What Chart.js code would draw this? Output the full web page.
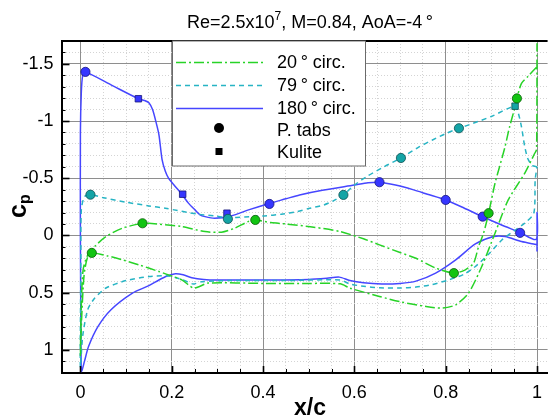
<!DOCTYPE html>
<html>
<head>
<meta charset="utf-8">
<script src="https://cdn.jsdelivr.net/npm/chart.js@4.4.1/dist/chart.umd.min.js"></script>
<style>
  html, body { margin: 0; padding: 0; background: #fff; }
</style>
</head>
<body>
<canvas id="cp" width="553" height="416"></canvas>
<script>
// pressure distributions, x/c vs cp, one loop per circumferential station
const seriesNames = ['20\u2009° circ.', '79\u2009° circ.', '180\u2009° circ.'];

const circ20 = [
  [1.0, -1.475], [0.98, -1.39], [0.966, -1.33], [0.956, -1.2], [0.952, -1.125], [0.94, -0.95],
  [0.93, -0.776], [0.918, -0.6], [0.908, -0.456], [0.894, -0.194], [0.883, -0.02], [0.872, 0.098],
  [0.861, 0.243], [0.843, 0.301], [0.818, 0.33], [0.778, 0.286], [0.735, 0.2], [0.7, 0.15],
  [0.655, 0.083], [0.62, 0.03], [0.569, -0.033], [0.511, -0.072], [0.45, -0.1], [0.417, -0.112],
  [0.383, -0.135], [0.367, -0.12], [0.338, -0.063], [0.309, -0.028], [0.273, -0.033], [0.222, -0.077],
  [0.15, -0.106], [0.136, -0.106], [0.092, -0.063], [0.056, 0.01], [0.031, 0.098], [0.015, 0.18],
  [0.006, 0.3], [0.002, 0.6], [0.0, 1.05], [0.003, 0.7], [0.008, 0.35], [0.015, 0.2],
  [0.025, 0.153], [0.06, 0.18], [0.092, 0.214], [0.13, 0.26], [0.172, 0.316], [0.193, 0.345],
  [0.222, 0.389], [0.247, 0.461], [0.258, 0.452], [0.28, 0.417], [0.4, 0.42], [0.5, 0.42],
  [0.569, 0.424], [0.59, 0.461], [0.655, 0.534], [0.7, 0.58], [0.757, 0.622], [0.793, 0.636],
  [0.822, 0.607], [0.85, 0.505], [0.879, 0.272], [0.908, -0.019], [0.937, -0.31], [0.973, -0.543],
  [0.995, -0.718], [0.999, -0.75], [1.0, -1.68]
];

const circ79 = [
  [1.0, -0.6], [0.99, -0.61], [0.98, -0.67], [0.973, -0.78], [0.966, -0.95], [0.959, -1.07],
  [0.952, -1.131], [0.9, -1.04], [0.86, -0.98], [0.829, -0.936], [0.8, -0.89], [0.771, -0.834],
  [0.74, -0.77], [0.702, -0.677], [0.665, -0.6], [0.627, -0.514], [0.6, -0.44], [0.576, -0.354],
  [0.553, -0.3], [0.533, -0.266], [0.5, -0.235], [0.475, -0.208], [0.44, -0.185], [0.403, -0.17],
  [0.36, -0.16], [0.323, -0.155], [0.294, -0.17], [0.258, -0.185], [0.186, -0.237], [0.15, -0.258],
  [0.1, -0.29], [0.05, -0.33], [0.022, -0.356], [0.009, -0.34], [0.002, -0.223], [0.001, 0.2],
  [0.0, 0.8], [0.0, 1.15], [0.005, 0.88], [0.016, 0.65], [0.031, 0.55], [0.056, 0.46],
  [0.1, 0.395], [0.15, 0.36], [0.193, 0.355], [0.222, 0.385], [0.247, 0.425], [0.265, 0.405],
  [0.33, 0.395], [0.45, 0.395], [0.569, 0.39], [0.59, 0.425], [0.62, 0.445], [0.655, 0.458],
  [0.7, 0.46], [0.735, 0.452], [0.77, 0.43], [0.807, 0.389], [0.84, 0.34], [0.865, 0.272],
  [0.895, 0.16], [0.923, 0.04], [0.95, -0.04], [0.973, -0.107], [0.993, -0.194], [0.996, -0.485],
  [1.0, -0.6]
];

const circ180 = [
  [1.0, 0.14], [1.0, -0.2], [0.998, 0.035], [0.963, -0.025], [0.92, -0.095], [0.88, -0.165],
  [0.84, -0.24], [0.8, -0.31], [0.76, -0.36], [0.728, -0.4], [0.69, -0.44], [0.655, -0.465],
  [0.63, -0.46], [0.6, -0.44], [0.53, -0.395], [0.48, -0.354], [0.45, -0.32], [0.41, -0.275],
  [0.37, -0.225], [0.33, -0.17], [0.294, -0.15], [0.273, -0.164], [0.262, -0.18], [0.251, -0.223],
  [0.237, -0.28], [0.222, -0.36], [0.205, -0.44], [0.193, -0.5], [0.186, -0.56], [0.179, -0.66],
  [0.172, -0.88], [0.165, -1.0], [0.158, -1.1], [0.15, -1.16], [0.14, -1.18], [0.127, -1.195],
  [0.07, -1.31], [0.011, -1.43], [0.005, -1.4], [0.002, -1.25], [0.0, -0.9], [0.0, 0.0],
  [0.001, 0.8], [0.002, 1.19], [0.004, 1.175], [0.009, 1.1], [0.018, 0.97], [0.038, 0.8],
  [0.067, 0.65], [0.114, 0.505], [0.15, 0.44], [0.172, 0.39], [0.19, 0.355], [0.208, 0.336],
  [0.225, 0.345], [0.244, 0.37], [0.27, 0.385], [0.3, 0.39], [0.4, 0.39], [0.5, 0.385],
  [0.54, 0.375], [0.567, 0.365], [0.59, 0.395], [0.62, 0.415], [0.66, 0.425], [0.7, 0.42],
  [0.735, 0.4], [0.778, 0.33], [0.822, 0.214], [0.865, 0.075], [0.905, 0.01], [0.93, 0.01],
  [0.966, 0.054], [0.995, 0.077], [1.0, 0.08]
];

// pressure tab readings
const tabs20 = [[0.025, 0.153], [0.136, -0.106], [0.383, -0.135], [0.818, 0.33], [0.894, -0.194], [0.956, -1.198]];
const tabs79 = [[0.022, -0.356], [0.323, -0.144], [0.576, -0.354], [0.702, -0.677], [0.829, -0.937]];
const tabs180 = [[0.011, -1.43], [0.414, -0.275], [0.655, -0.465], [0.8, -0.31], [0.881, -0.164], [0.963, -0.022]];

// kulite readings
const kulite79 = [[0.952, -1.13]];
const kulite180 = [[0.127, -1.195], [0.224, -0.36], [0.321, -0.194]];

const xTickLabels = [0, 0.2, 0.4, 0.6, 0.8, 1];
const yTickLabels = [-1.5, -1, -0.5, 0, 0.5, 1];

const colors = {
  g: { line: '#27d327', fill: '#12c412', edge: '#0b5c0b', dash: [10, 3, 2, 3] },
  t: { line: '#27b4c4', fill: '#14a4a6', edge: '#0c5052', dash: [5, 4] },
  b: { line: '#4646ff', fill: '#3636ff', edge: '#16167c', dash: [] }
};

const FONT = '"Liberation Sans", Arial, sans-serif';
const pts = arr => arr.map(p => ({ x: p[0], y: p[1] }));

function curve(label, arr, c) {
  return {
    label: label, data: pts(arr), showLine: true, pointRadius: 0,
    borderColor: c.line, borderWidth: 1.5, borderDash: c.dash, tension: 0.25, order: 2
  };
}
function marks(label, arr, c, style) {
  return {
    label: label, data: pts(arr), showLine: false, pointStyle: style,
    pointRadius: 4.6, backgroundColor: c.fill, borderColor: c.edge, pointBorderWidth: 0.8, order: 1
  };
}

const isMajor = (v, step) => Math.abs(v / step - Math.round(v / step)) < 1e-6;

// minor ticks between the labelled ones
const xMinor = [];
for (let i = 0; i <= 20; i++) xMinor.push(Math.round(i * 5) / 100);
const yMinor = [];
for (let i = -16; i <= 11; i++) yMinor.push(i / 10);

function dottedGrid(step) {
  return {
    color: c => (c.tick && isMajor(c.tick.value, step)) ? '#8e8e8e' : '#d4d4d4',
    lineWidth: 1,
    drawTicks: false
  };
}

const frame = {
  id: 'frame',
  afterDatasetsDraw(chart) {
    const { ctx, chartArea: a, scales: { x, y } } = chart;
    ctx.save();
    ctx.strokeStyle = '#000';
    ctx.lineWidth = 2;
    ctx.beginPath();
    ctx.moveTo(a.left, a.top);
    ctx.lineTo(a.right, a.top);
    ctx.stroke();

    // inward tick marks
    x.ticks.forEach(t => {
      const px = Math.round(x.getPixelForValue(t.value)) + 0.5;
      const big = isMajor(t.value, 0.2);
      ctx.lineWidth = big ? 1.6 : 1;
      ctx.beginPath();
      ctx.moveTo(px, a.bottom);
      ctx.lineTo(px, a.bottom - (big ? 7 : 4));
      ctx.stroke();
    });
    y.ticks.forEach(t => {
      const py = Math.round(y.getPixelForValue(t.value)) + 0.5;
      const big = isMajor(t.value, 0.5);
      ctx.lineWidth = big ? 1.6 : 1;
      ctx.beginPath();
      ctx.moveTo(a.left, py);
      ctx.lineTo(a.left + (big ? 8 : 4), py);
      ctx.stroke();
    });

    // legend box
    const lx = 172.5, ly = 41, lw = 193, lh = 125;
    ctx.fillStyle = '#fff';
    ctx.fillRect(lx, ly, lw, lh);
    ctx.strokeStyle = '#6a6a6a';
    ctx.lineWidth = 1;
    ctx.strokeRect(lx, ly, lw, lh);

    const rows = [62, 85, 108, 130, 152];
    [colors.g, colors.t, colors.b].forEach((c, i) => {
      ctx.strokeStyle = c.line;
      ctx.lineWidth = 1.5;
      ctx.setLineDash(c.dash);
      ctx.beginPath();
      ctx.moveTo(176, rows[i] + 0.5);
      ctx.lineTo(263, rows[i] + 0.5);
      ctx.stroke();
    });
    ctx.setLineDash([]);
    ctx.fillStyle = '#000';
    ctx.beginPath();
    ctx.arc(219, rows[3] - 2, 5, 0, Math.PI * 2);
    ctx.fill();
    ctx.fillRect(215.5, rows[4] - 4, 7, 7);

    ctx.font = '18px ' + FONT;
    ctx.textBaseline = 'middle';
    ctx.textAlign = 'left';
    const texts = seriesNames.concat(['P. tabs', 'Kulite']);
    texts.forEach((s, i) => ctx.fillText(s, 277, rows[i] + 1));
    ctx.restore();
  },
  afterDraw(chart) {
    const { ctx } = chart;
    ctx.save();
    ctx.fillStyle = '#000';
    ctx.textBaseline = 'alphabetic';
    ctx.textAlign = 'left';

    // heading with the exponent raised
    const a = 'Re=2.5x10', e = '7', b = ', M=0.84, AoA=-4\u2009°';
    ctx.font = '18px ' + FONT;
    const wa = ctx.measureText(a).width, wb = ctx.measureText(b).width;
    ctx.font = '12px ' + FONT;
    const we = ctx.measureText(e).width;
    let x0 = 310 - (wa + we + wb) / 2;
    ctx.font = '18px ' + FONT;
    ctx.fillText(a, x0, 28);
    ctx.font = '12px ' + FONT;
    ctx.fillText(e, x0 + wa, 20);
    ctx.font = '18px ' + FONT;
    ctx.fillText(b, x0 + wa + we, 28);

    // x axis title
    ctx.font = 'bold 23px ' + FONT;
    ctx.textAlign = 'center';
    ctx.fillText('x/c', 310, 415);

    // y axis title, c with subscript p
    ctx.translate(26, 218);
    ctx.rotate(-Math.PI / 2);
    ctx.textAlign = 'left';
    ctx.font = 'bold 25px ' + FONT;
    ctx.fillText('c', 0, 0);
    const wc = ctx.measureText('c').width;
    ctx.font = 'bold 16px ' + FONT;
    ctx.fillText('p', wc, 4);
    ctx.restore();
  }
};

new Chart(document.getElementById('cp'), {
  type: 'scatter',
  data: {
    datasets: [
      marks('P. tabs', tabs20, colors.g, 'circle'),
      marks('P. tabs', tabs79, colors.t, 'circle'),
      marks('P. tabs', tabs180, colors.b, 'circle'),
      marks('Kulite', kulite79, colors.t, 'rect'),
      marks('Kulite', kulite180, colors.b, 'rect'),
      curve(seriesNames[0], circ20, colors.g),
      curve(seriesNames[1], circ79, colors.t),
      curve(seriesNames[2], circ180, colors.b)
    ]
  },
  options: {
    responsive: false,
    animation: false,
    events: [],
    layout: { padding: { top: 41, left: 0, right: 0, bottom: 0 } },
    plugins: { legend: { display: false }, tooltip: { enabled: false }, title: { display: false } },
    scales: {
      x: {
        type: 'linear', min: -0.0414, max: 1.0232,
        afterBuildTicks: s => { s.ticks = xMinor.map(v => ({ value: v })); },
        afterFit: s => { s.height = 43; },
        ticks: {
          autoSkip: false, maxRotation: 0, padding: 9, color: '#000',
          font: { family: FONT, size: 18 },
          callback: v => xTickLabels.some(t => Math.abs(t - v) < 1e-6) ? String(v) : ''
        },
        grid: dottedGrid(0.2),
        border: { display: true, color: '#000', width: 2, dash: c => (c.tick && !isMajor(c.tick.value, 0.2)) ? [1, 2] : [] }
      },
      y: {
        type: 'linear', reverse: true, min: -1.7, max: 1.2035,
        afterBuildTicks: s => { s.ticks = yMinor.map(v => ({ value: v })); },
        afterFit: s => { s.width = 61.5; },
        ticks: {
          autoSkip: false, padding: 8, color: '#000',
          font: { family: FONT, size: 18 },
          callback: v => yTickLabels.some(t => Math.abs(t - v) < 1e-6) ? String(v) : ''
        },
        grid: dottedGrid(0.5),
        border: { display: true, color: '#000', width: 2, dash: c => (c.tick && !isMajor(c.tick.value, 0.5)) ? [1, 2] : [] }
      }
    }
  },
  plugins: [frame]
});
</script>
</body>
</html>
